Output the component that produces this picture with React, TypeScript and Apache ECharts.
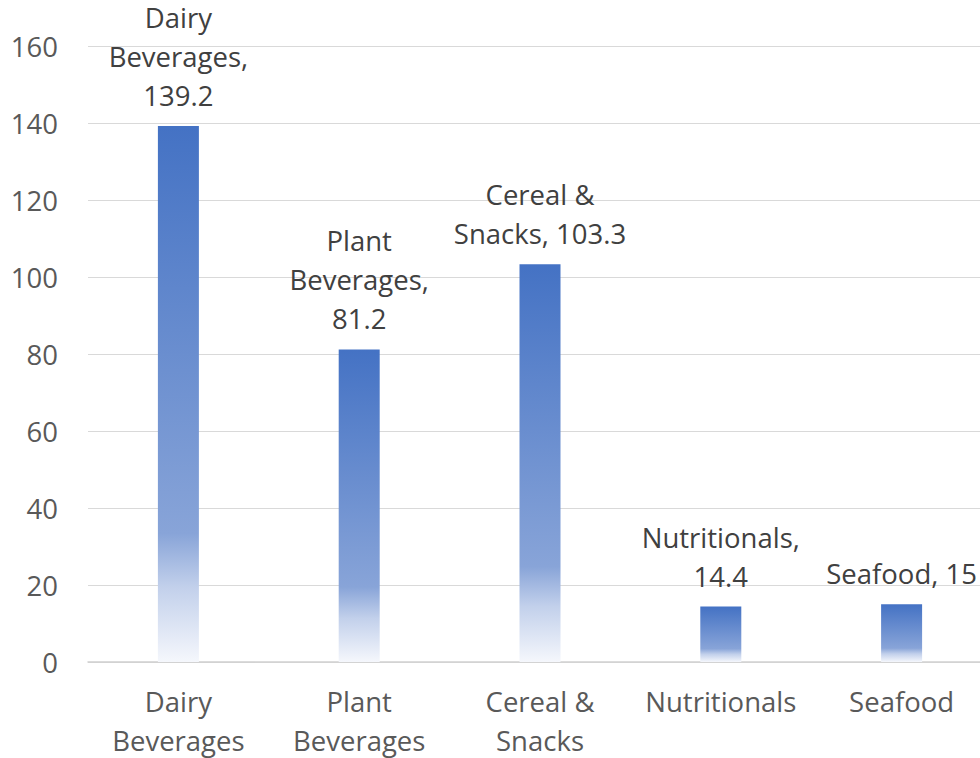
import React, { useEffect, useRef } from "react";
import * as echarts from "echarts";

const categories = ["Dairy\nBeverages", "Plant\nBeverages", "Cereal &\nSnacks", "Nutritionals", "Seafood"];
const labelNames = ["Dairy\nBeverages,", "Plant\nBeverages,", "Cereal &\nSnacks,", "Nutritionals,", "Seafood,"];
const labelSeparators = ["\n", "\n", " ", "\n", " "];
const values = [139.2, 81.2, 103.3, 14.4, 15];
const yTicks = { min: 0, max: 160, interval: 20 };

const FONT = "'Open Sans', 'Noto Sans', sans-serif";

export default function App() {
  const ref = useRef<HTMLDivElement>(null);
  useEffect(() => {
    if (!ref.current) return;
    const chart = echarts.init(ref.current, undefined, { renderer: "svg" });
    const gradient = new echarts.graphic.LinearGradient(0, 0, 0, 1, [
      { offset: 0, color: "#4472C4" },
      { offset: 0.76, color: "#88a4d8" },
      { offset: 0.86, color: "#c2d0eb" },
      { offset: 1, color: "#f5f7fc" },
    ]);
    chart.setOption({
      animation: false,
      textStyle: { fontFamily: FONT },
      grid: { left: 88, right: 8, top: 46, bottom: 96, containLabel: false, outerBoundsMode: "none" },
      xAxis: {
        type: "category",
        data: categories,
        axisLine: { show: true, lineStyle: { color: "#d0d0d0", width: 1.5 } },
        axisTick: { show: false },
        axisLabel: {
          color: "#595959",
          fontSize: 27.5,
          lineHeight: 39,
          margin: 20,
          fontFamily: FONT,
          interval: 0,
        },
      },
      yAxis: {
        type: "value",
        min: yTicks.min,
        max: yTicks.max,
        interval: yTicks.interval,
        axisLine: { show: false },
        axisTick: { show: false },
        splitLine: { lineStyle: { color: "#d9d9d9", width: 1.2 } },
        axisLabel: { color: "#595959", fontSize: 27.5, margin: 30, fontFamily: FONT },
      },
      series: [
        {
          type: "bar",
          data: values,
          barWidth: 41,
          itemStyle: { color: gradient },
          label: {
            show: true,
            position: "top",
            distance: 11,
            color: "#404040",
            fontSize: 27.5,
            lineHeight: 39,
            fontFamily: FONT,
            align: "center",
            formatter: (p: any) => `${labelNames[p.dataIndex]}${labelSeparators[p.dataIndex]}${p.value}`,
          },
        },
      ],
    });
    return () => chart.dispose();
  }, []);
  return (
    <div style={{ position: "absolute", left: 0, top: 0, width: 980, height: 758, overflow: "hidden", background: "#fff" }}>
      <div ref={ref} style={{ width: 1000, height: 758 }} />
    </div>
  );
}
